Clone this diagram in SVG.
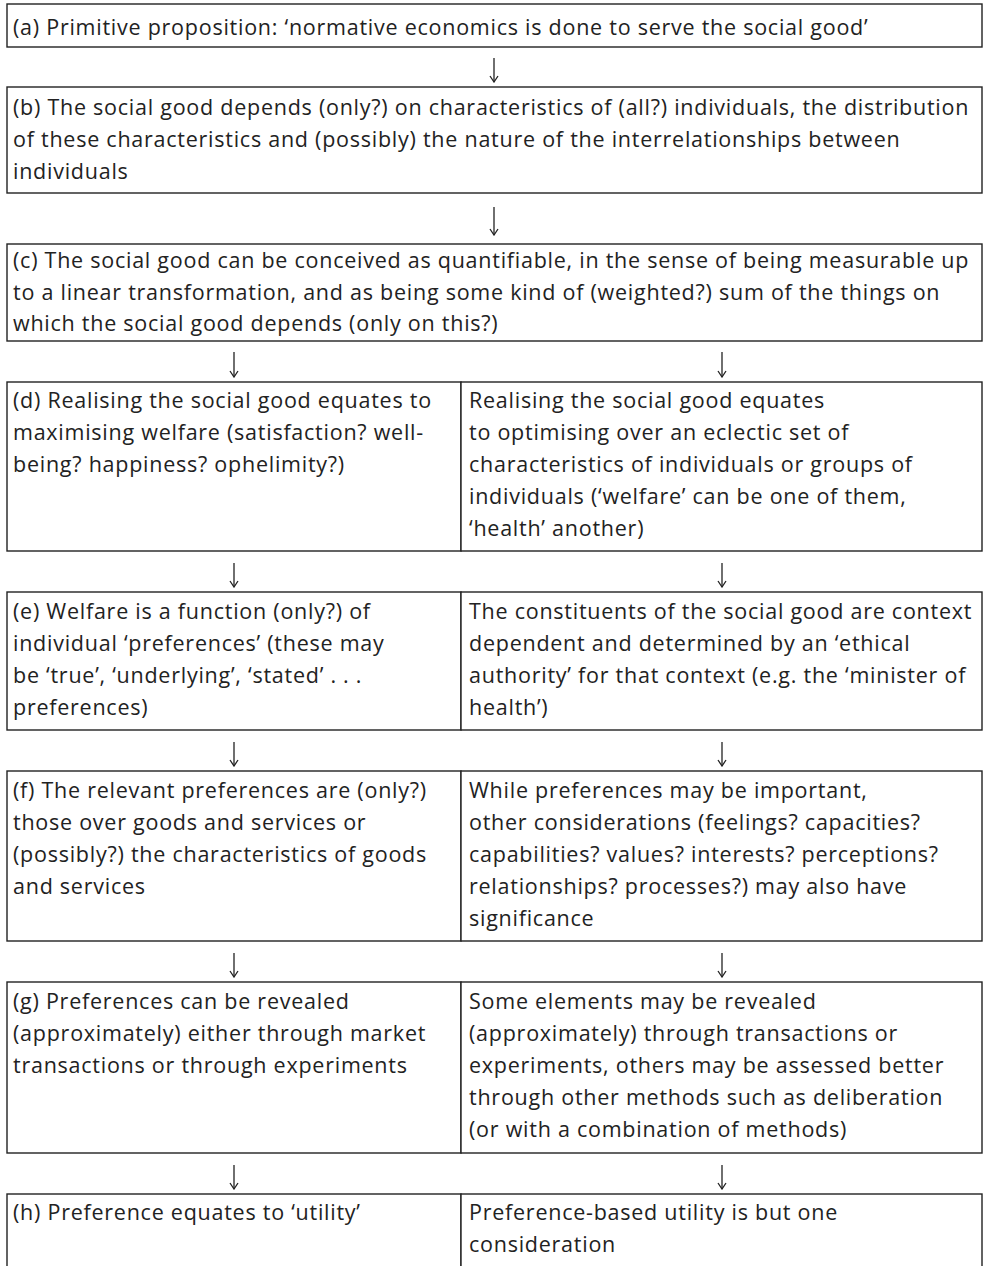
<svg xmlns="http://www.w3.org/2000/svg" width="985" height="1266" viewBox="0 0 985 1266">
<defs>
<style>
.box{fill:#fff;stroke:#222;stroke-width:1.4}
.t{font-family:"Open Sans","Noto Sans","DejaVu Sans",sans-serif;font-size:21.5px;letter-spacing:0.75px;fill:#222}
.arr{stroke:#222;stroke-width:1.3;fill:none}
</style>
<marker id="ah" viewBox="0 0 10 10" refX="9" refY="5" markerWidth="10" markerHeight="10" markerUnits="userSpaceOnUse" orient="auto">
<path d="M3,1 L9,5 L3,9" fill="none" stroke="#222" stroke-width="1.3"/>
</marker>
</defs>
<rect width="985" height="1266" fill="#fff"/>

<g id="node-a">
<rect class="box" x="7" y="4" width="975" height="43"/>
<text class="t" x="13" y="35">(a) Primitive proposition: ‘normative economics is done to serve the social good’</text>
</g>

<g id="node-b">
<rect class="box" x="7" y="87" width="975" height="106"/>
<text class="t" x="13" y="115">(b) The social good depends (only?) on characteristics of (all?) individuals, the distribution</text>
<text class="t" x="13" y="147">of these characteristics and (possibly) the nature of the interrelationships between</text>
<text class="t" x="13" y="179">individuals</text>
</g>

<g id="node-c">
<rect class="box" x="7" y="244" width="975" height="97"/>
<text class="t" x="13" y="268">(c) The social good can be conceived as quantifiable, in the sense of being measurable up</text>
<text class="t" x="13" y="300">to a linear transformation, and as being some kind of (weighted?) sum of the things on</text>
<text class="t" x="13" y="331">which the social good depends (only on this?)</text>
</g>

<g id="node-d">
<rect class="box" x="7" y="382" width="454" height="169"/>
<text class="t" x="13" y="408">(d) Realising the social good equates to</text>
<text class="t" x="13" y="440">maximising welfare (satisfaction? well-</text>
<text class="t" x="13" y="472">being? happiness? ophelimity?)</text>
</g>
<g id="node-d2">
<rect class="box" x="461" y="382" width="521" height="169"/>
<text class="t" x="469" y="408">Realising the social good equates</text>
<text class="t" x="469" y="440">to optimising over an eclectic set of</text>
<text class="t" x="469" y="472">characteristics of individuals or groups of</text>
<text class="t" x="469" y="504">individuals (‘welfare’ can be one of them,</text>
<text class="t" x="469" y="536">‘health’ another)</text>
</g>

<g id="node-e">
<rect class="box" x="7" y="592" width="454" height="138"/>
<text class="t" x="13" y="619">(e) Welfare is a function (only?) of</text>
<text class="t" x="13" y="651">individual ‘preferences’ (these may</text>
<text class="t" x="13" y="683">be ‘true’, ‘underlying’, ‘stated’ . . .</text>
<text class="t" x="13" y="715">preferences)</text>
</g>
<g id="node-e2">
<rect class="box" x="461" y="592" width="521" height="138"/>
<text class="t" x="469" y="619">The constituents of the social good are context</text>
<text class="t" x="469" y="651">dependent and determined by an ‘ethical</text>
<text class="t" x="469" y="683">authority’ for that context (e.g. the ‘minister of</text>
<text class="t" x="469" y="715">health’)</text>
</g>

<g id="node-f">
<rect class="box" x="7" y="771" width="454" height="170"/>
<text class="t" x="13" y="798">(f) The relevant preferences are (only?)</text>
<text class="t" x="13" y="830">those over goods and services or</text>
<text class="t" x="13" y="862">(possibly?) the characteristics of goods</text>
<text class="t" x="13" y="894">and services</text>
</g>
<g id="node-f2">
<rect class="box" x="461" y="771" width="521" height="170"/>
<text class="t" x="469" y="798">While preferences may be important,</text>
<text class="t" x="469" y="830">other considerations (feelings? capacities?</text>
<text class="t" x="469" y="862">capabilities? values? interests? perceptions?</text>
<text class="t" x="469" y="894">relationships? processes?) may also have</text>
<text class="t" x="469" y="926">significance</text>
</g>

<g id="node-g">
<rect class="box" x="7" y="982" width="454" height="171"/>
<text class="t" x="13" y="1009">(g) Preferences can be revealed</text>
<text class="t" x="13" y="1041">(approximately) either through market</text>
<text class="t" x="13" y="1073">transactions or through experiments</text>
</g>
<g id="node-g2">
<rect class="box" x="461" y="982" width="521" height="171"/>
<text class="t" x="469" y="1009">Some elements may be revealed</text>
<text class="t" x="469" y="1041">(approximately) through transactions or</text>
<text class="t" x="469" y="1073">experiments, others may be assessed better</text>
<text class="t" x="469" y="1105">through other methods such as deliberation</text>
<text class="t" x="469" y="1137">(or with a combination of methods)</text>
</g>

<g id="node-h">
<rect class="box" x="7" y="1194" width="454" height="90"/>
<text class="t" x="13" y="1220">(h) Preference equates to ‘utility’</text>
</g>
<g id="node-h2">
<rect class="box" x="461" y="1194" width="521" height="90"/>
<text class="t" x="469" y="1220">Preference-based utility is but one</text>
<text class="t" x="469" y="1252">consideration</text>
</g>

<g id="connectors">
<line class="arr" x1="494" y1="58" x2="494" y2="82" marker-end="url(#ah)"/>
<line class="arr" x1="494" y1="207" x2="494" y2="235" marker-end="url(#ah)"/>
<line class="arr" x1="234" y1="352" x2="234" y2="377" marker-end="url(#ah)"/>
<line class="arr" x1="722" y1="352" x2="722" y2="377" marker-end="url(#ah)"/>
<line class="arr" x1="234" y1="563" x2="234" y2="587" marker-end="url(#ah)"/>
<line class="arr" x1="722" y1="563" x2="722" y2="587" marker-end="url(#ah)"/>
<line class="arr" x1="234" y1="742" x2="234" y2="766" marker-end="url(#ah)"/>
<line class="arr" x1="722" y1="742" x2="722" y2="766" marker-end="url(#ah)"/>
<line class="arr" x1="234" y1="953" x2="234" y2="977" marker-end="url(#ah)"/>
<line class="arr" x1="722" y1="953" x2="722" y2="977" marker-end="url(#ah)"/>
<line class="arr" x1="234" y1="1165" x2="234" y2="1189" marker-end="url(#ah)"/>
<line class="arr" x1="722" y1="1165" x2="722" y2="1189" marker-end="url(#ah)"/>
</g>
</svg>
